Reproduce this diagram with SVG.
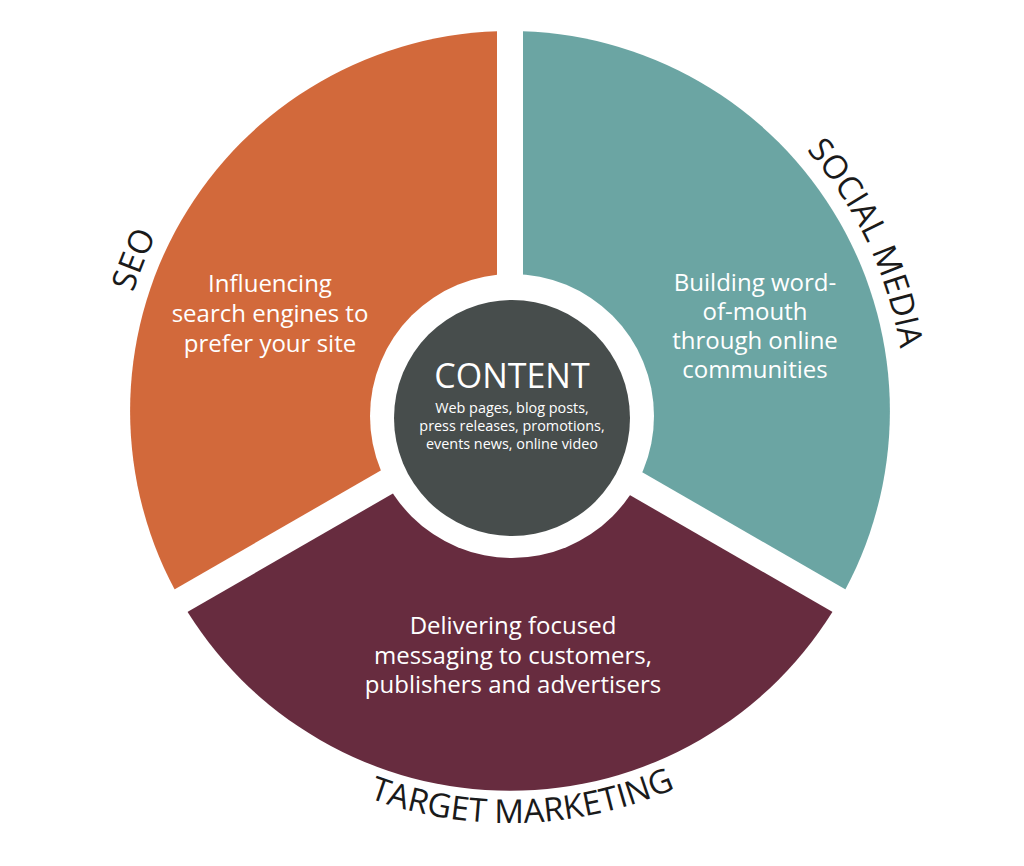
<svg xmlns="http://www.w3.org/2000/svg" width="1024" height="866" viewBox="0 0 1024 866">
<style>
text{font-family:"Open Sans","Liberation Sans",sans-serif;}
.in{fill:#fff;font-size:24px;text-anchor:middle;}
.lab{fill:#1a1a1a;font-size:33px;}
.gap{stroke:#fff;stroke-width:26;}
</style>
<defs>
<path id="top" d="M115,411 A395,395 0 1 1 905,411"/>
<path id="bot" d="M98,411 A412,412 0 0 0 922,411"/>
</defs>
<rect width="1024" height="866" fill="#fff"/>
<g id="seo">
<path d="M510,411 L510,31 A380,380 0 0 0 181,601 Z" fill="#D2693B"/>
<text class="in"><tspan x="270" y="292">Influencing</tspan><tspan x="270" y="322">search engines to</tspan><tspan x="270" y="352">prefer your site</tspan></text>
<text class="lab"><textPath href="#top" startOffset="12.2%" text-anchor="middle">SEO</textPath></text>
</g>
<g id="social">
<path d="M510,411 L510,31 A380,380 0 0 1 839,601 Z" fill="#6BA5A3"/>
<text class="in"><tspan x="755" y="291">Building word-</tspan><tspan x="755" y="320">of-mouth</tspan><tspan x="755" y="349">through online</tspan><tspan x="755" y="378">communities</tspan></text>
<text class="lab"><textPath href="#top" startOffset="86%" text-anchor="middle">SOCIAL MEDIA</textPath></text>
</g>
<g id="target">
<path d="M510,411 L839,601 A380,380 0 0 1 181,601 Z" fill="#672C3F"/>
<text class="in"><tspan x="513" y="634">Delivering focused</tspan><tspan x="513" y="664">messaging to customers,</tspan><tspan x="513" y="693">publishers and advertisers</tspan></text>
<text class="lab"><textPath href="#bot" startOffset="51%" text-anchor="middle">TARGET MARKETING</textPath></text>
</g>
<g id="connectors">
<line class="gap" x1="510" y1="411" x2="510" y2="20"/>
<line class="gap" x1="510" y1="411" x2="850" y2="607"/>
<line class="gap" x1="510" y1="411" x2="170" y2="607"/>
</g>
<g id="content">
<circle cx="512" cy="416" r="142" fill="#fff"/>
<circle cx="512" cy="418" r="118" fill="#474D4C"/>
<text x="512" y="388" fill="#fff" font-size="34" text-anchor="middle">CONTENT</text>
<text fill="#fff" font-size="14.4" text-anchor="middle"><tspan x="512" y="413">Web pages, blog posts,</tspan><tspan x="512" y="431">press releases, promotions,</tspan><tspan x="512" y="449">events news, online video</tspan></text>
</g>
</svg>
